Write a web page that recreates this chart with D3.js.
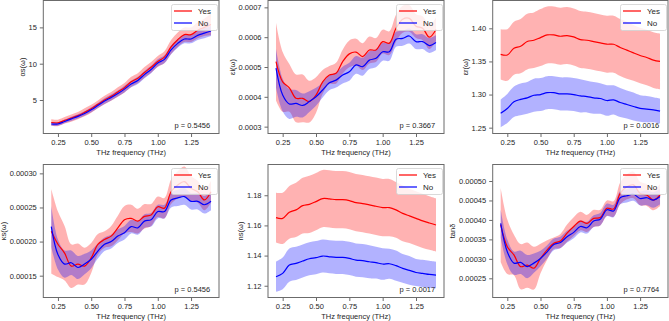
<!DOCTYPE html>
<html>
<head>
<meta charset="utf-8">
<script src="https://cdn.jsdelivr.net/npm/d3@7"></script>
<style>
html,body{margin:0;padding:0;background:#fff;}
svg{display:block;font-family:"Liberation Sans",Arial,Helvetica,sans-serif;}
</style>
</head>
<body>
<svg id="chart" width="669" height="321"></svg>
<script>
// ---------------- DATA ----------------
const freq = [0.20,0.25,0.30,0.35,0.40,0.45,0.50,0.55,0.60,0.65,0.70,0.75,0.80,0.85,0.90,0.95,1.00,1.05,1.10,1.15,1.20,1.25,1.30,1.35,1.40];
const xTicks = [0.25,0.50,0.75,1.00,1.25];
const xLimits = [0.14,1.46];
const groupNames = ["Yes","No"];

// αs(ω)
const asYesMean = [1.9,1.85,2.2,2.5,2.85,3.3,3.8,4.4,5.0,5.5,6.1,6.7,7.5,8.0,8.8,9.5,10.3,10.9,12.3,13.3,14.0,14.0,14.6,15.0,15.4];
const asYesSd   = [0.45,0.45,0.45,0.5,0.5,0.55,0.55,0.55,0.6,0.6,0.65,0.65,0.7,0.7,0.75,0.75,0.75,0.8,0.95,1.0,1.0,1.0,1.1,1.2,1.5];
const asNoMean  = [1.7,1.7,2.05,2.4,2.75,3.15,3.65,4.25,4.85,5.35,5.9,6.5,7.2,7.7,8.5,9.2,10.1,10.6,11.9,12.8,13.4,13.4,13.9,14.2,14.5];
const asNoSd    = [0.25,0.25,0.25,0.3,0.3,0.3,0.35,0.35,0.4,0.4,0.4,0.45,0.45,0.5,0.5,0.5,0.5,0.55,0.6,0.6,0.6,0.6,0.65,0.7,0.7];
const asTicks = [5,10,15];
const asLimits = [0.39,18.7];

// εi(ω)
const eiYesMean = [0.000518,0.000450,0.000430,0.000395,0.000395,0.000384,0.000406,0.000450,0.000473,0.000479,0.000518,0.000544,0.000550,0.000535,0.000557,0.000557,0.000585,0.000580,0.000630,0.000660,0.000663,0.000637,0.000630,0.000600,0.000626];
const eiYesSd   = [0.000130,0.000100,0.000080,0.000080,0.000080,0.000070,0.000060,0.000040,0.000030,0.000035,0.000040,0.000045,0.000045,0.000045,0.000045,0.000040,0.000040,0.000040,0.000045,0.000045,0.000045,0.000040,0.000040,0.000040,0.000040];
const eiNoMean  = [0.000496,0.000406,0.000376,0.000378,0.000371,0.000384,0.000400,0.000423,0.000447,0.000456,0.000473,0.000484,0.000507,0.000501,0.000523,0.000529,0.000551,0.000551,0.000593,0.000596,0.000604,0.000585,0.000585,0.000572,0.000582];
const eiNoSd    = [0.000065,0.000055,0.000050,0.000045,0.000040,0.000035,0.000030,0.000025,0.000025,0.000025,0.000028,0.000030,0.000030,0.000030,0.000030,0.000030,0.000030,0.000030,0.000025,0.000025,0.000025,0.000025,0.000025,0.000025,0.000025];
const eiTicks = [0.0003,0.0004,0.0005,0.0006,0.0007];
const eiLimits = [0.000277,0.000723];

// εr(ω)
const erYesMean = [1.3607,1.3597,1.370,1.373,1.380,1.382,1.386,1.390,1.390,1.388,1.389,1.387,1.383,1.382,1.380,1.378,1.376,1.376,1.371,1.367,1.363,1.359,1.356,1.352,1.350];
const erYesSd   = [0.038,0.039,0.040,0.041,0.042,0.042,0.043,0.043,0.043,0.043,0.043,0.043,0.043,0.043,0.043,0.043,0.043,0.043,0.043,0.043,0.042,0.042,0.042,0.042,0.042];
const erNoMean  = [1.2716,1.279,1.289,1.2927,1.295,1.299,1.300,1.3028,1.3028,1.301,1.301,1.300,1.298,1.297,1.295,1.294,1.291,1.292,1.288,1.285,1.282,1.279,1.278,1.277,1.275];
const erNoSd    = [0.021,0.022,0.023,0.024,0.024,0.025,0.025,0.025,0.025,0.025,0.025,0.025,0.025,0.024,0.024,0.023,0.023,0.022,0.022,0.021,0.021,0.020,0.020,0.019,0.019];
const erTicks = [1.25,1.30,1.35,1.40];
const erLimits = [1.2412,1.442];

// κs(ω)
const ksYesMean = [0.000215,0.000196,0.000183,0.000164,0.000167,0.000164,0.000176,0.000196,0.000203,0.000208,0.000220,0.000232,0.000234,0.000230,0.000237,0.000239,0.000251,0.000249,0.000273,0.000283,0.000288,0.000278,0.000273,0.000261,0.000273];
const ksYesSd   = [0.000062,0.000048,0.000040,0.000032,0.000030,0.000027,0.000022,0.000015,0.000012,0.000015,0.000018,0.000020,0.000020,0.000018,0.000018,0.000016,0.000015,0.000015,0.000018,0.000020,0.000022,0.000018,0.000016,0.000015,0.000016];
const ksNoMean  = [0.000222,0.000181,0.000167,0.000169,0.000162,0.000167,0.000174,0.000186,0.000196,0.000200,0.000208,0.000213,0.000222,0.000220,0.000230,0.000232,0.000244,0.000244,0.000261,0.000264,0.000266,0.000259,0.000259,0.000254,0.000259];
const ksNoSd    = [0.000030,0.000022,0.000020,0.000018,0.000017,0.000015,0.000013,0.000011,0.000010,0.000010,0.000010,0.000010,0.000010,0.000010,0.000010,0.000010,0.000010,0.000010,0.000011,0.000012,0.000012,0.000012,0.000012,0.000013,0.000013];
const ksTicks = [0.00015,0.00020,0.00025,0.00030];
const ksLimits = [0.000118,0.000313];

// ns(ω)
const nsYesMean = [1.1652,1.1647,1.1687,1.1703,1.1731,1.1740,1.1758,1.1778,1.1776,1.1771,1.1771,1.1765,1.1751,1.1745,1.1736,1.1727,1.1718,1.1718,1.1703,1.1680,1.1663,1.1647,1.1630,1.1616,1.1603];
const nsYesSd   = [0.0165,0.017,0.0175,0.018,0.0185,0.019,0.019,0.019,0.019,0.019,0.019,0.019,0.019,0.019,0.019,0.019,0.019,0.019,0.0185,0.0185,0.018,0.018,0.018,0.0178,0.0177];
const nsNoMean  = [1.1260,1.1282,1.1337,1.1348,1.1364,1.1379,1.1386,1.1397,1.1392,1.1388,1.1388,1.1381,1.1370,1.1366,1.1359,1.1353,1.1344,1.1346,1.1333,1.1315,1.1302,1.1288,1.1282,1.1275,1.1271];
const nsNoSd    = [0.010,0.0105,0.011,0.011,0.011,0.011,0.011,0.011,0.011,0.011,0.011,0.011,0.011,0.011,0.011,0.0105,0.0105,0.010,0.010,0.0095,0.0095,0.009,0.009,0.009,0.0088];
const nsTicks = [1.12,1.14,1.16,1.18];
const nsLimits = [1.1122,1.2004];

// tanδ
const tdYesMean = [0.000387,0.000331,0.000310,0.000280,0.000284,0.000276,0.000301,0.000323,0.000340,0.000346,0.000366,0.000383,0.000397,0.000391,0.000404,0.000406,0.000430,0.000428,0.000468,0.000485,0.000490,0.000468,0.000464,0.000451,0.000464];
const tdYesSd   = [0.000095,0.000070,0.000052,0.000058,0.000058,0.000055,0.000038,0.000025,0.000015,0.000018,0.000022,0.000024,0.000024,0.000022,0.000022,0.000020,0.000020,0.000020,0.000028,0.000032,0.000034,0.000030,0.000028,0.000026,0.000028];
const tdNoMean  = [0.000391,0.000318,0.000289,0.000291,0.000280,0.000289,0.000301,0.000318,0.000337,0.000342,0.000357,0.000368,0.000383,0.000380,0.000397,0.000402,0.000426,0.000423,0.000457,0.000462,0.000466,0.000455,0.000457,0.000451,0.000460];
const tdNoSd    = [0.000036,0.000032,0.000030,0.000030,0.000030,0.000025,0.000020,0.000017,0.000015,0.000015,0.000015,0.000015,0.000015,0.000015,0.000015,0.000016,0.000016,0.000016,0.000017,0.000017,0.000017,0.000018,0.000019,0.000020,0.000020];
const tdTicks = [0.00025,0.00030,0.00035,0.00040,0.00045,0.00050];
const tdLimits = [0.0002007,0.0005424];

const yLabels = ["αs(ω)","εi(ω)","εr(ω)","κs(ω)","ns(ω)","tanδ"];
const pValues = ["p = 0.5456","p = 0.3667","p = 0.0016","p = 0.5456","p = 0.0017","p = 0.7764"];
const xLabel = "THz frequency (THz)";

// ---------------- LAYOUT ----------------
const panels = [
  {yes:[asYesMean,asYesSd], no:[asNoMean,asNoSd], ticks:asTicks, lim:asLimits, fmt:d3.format("d")},
  {yes:[eiYesMean,eiYesSd], no:[eiNoMean,eiNoSd], ticks:eiTicks, lim:eiLimits, fmt:d3.format(".4f")},
  {yes:[erYesMean,erYesSd], no:[erNoMean,erNoSd], ticks:erTicks, lim:erLimits, fmt:d3.format(".2f")},
  {yes:[ksYesMean,ksYesSd], no:[ksNoMean,ksNoSd], ticks:ksTicks, lim:ksLimits, fmt:d3.format(".5f")},
  {yes:[nsYesMean,nsYesSd], no:[nsNoMean,nsNoSd], ticks:nsTicks, lim:nsLimits, fmt:d3.format(".2f")},
  {yes:[tdYesMean,tdYesSd], no:[tdNoMean,tdNoSd], ticks:tdTicks, lim:tdLimits, fmt:d3.format(".5f")}
];
const cols = [[43.3,219],[268,444],[492.7,668]];
const rows = [[0.5,133.5],[164.5,297.5]];

const svg = d3.select("#chart");
const FS = 7.5;
const textColor = "#262626";
const frameColor = "#6b6b6b";
const colors = {Yes:"#ff0000", No:"#0000ff"};

panels.forEach((p,i)=>{
  const c = cols[i%3], r = rows[Math.floor(i/3)];
  const x = d3.scaleLinear().domain(xLimits).range(c);
  const y = d3.scaleLinear().domain(p.lim).range([r[1],r[0]]);
  const g = svg.append("g");
  const clipId = "clip"+i;
  svg.append("clipPath").attr("id",clipId).append("rect")
    .attr("x",c[0]).attr("y",r[0]).attr("width",c[1]-c[0]).attr("height",r[1]-r[0]);
  const plot = g.append("g").attr("clip-path",`url(#${clipId})`);

  const groups = [["Yes",p.yes],["No",p.no]];
  const area = (m,s)=>d3.area().x((d,k)=>x(freq[k])).y0((d,k)=>y(m[k]-s[k])).y1((d,k)=>y(m[k]+s[k])).curve(d3.curveCatmullRom.alpha(0.5));
  const line = (m)=>d3.line().x((d,k)=>x(freq[k])).y((d,k)=>y(m[k])).curve(d3.curveCatmullRom.alpha(0.5));
  groups.forEach(([name,[m,s]])=>{
    plot.append("path").attr("d",area(m,s)(freq)).attr("fill",colors[name]).attr("fill-opacity",0.3).attr("stroke","none");
  });
  groups.forEach(([name,[m,s]])=>{
    plot.append("path").attr("d",line(m)(freq)).attr("fill","none").attr("stroke",colors[name]).attr("stroke-width",1.2);
  });

  // axes
  const xa = g.append("g").attr("transform",`translate(0,${r[1]})`)
    .call(d3.axisBottom(x).tickValues(xTicks).tickFormat(d3.format(".2f")).tickSize(3.5).tickPadding(2.5));
  const ya = g.append("g").attr("transform",`translate(${c[0]},0)`)
    .call(d3.axisLeft(y).tickValues(p.ticks).tickFormat(p.fmt).tickSize(3.5).tickPadding(3));
  [xa,ya].forEach(a=>{
    a.select(".domain").remove();
    a.selectAll("line").attr("stroke","#444").attr("stroke-width",0.8);
    a.selectAll("text").attr("font-size",FS).attr("fill",textColor).attr("font-family","Liberation Sans, Arial, sans-serif");
  });

  // frame
  g.append("rect").attr("x",c[0]).attr("y",r[0]).attr("width",c[1]-c[0]).attr("height",r[1]-r[0])
    .attr("fill","none").attr("stroke",frameColor).attr("stroke-width",1);

  // x label
  g.append("text").attr("x",(c[0]+c[1])/2).attr("y",r[1]+21.5).attr("text-anchor","middle")
    .attr("font-size",FS).attr("fill",textColor).text(xLabel);

  // y label (placed left of tick labels)
  let minX = Infinity;
  ya.selectAll("text").each(function(){ const b=this.getBBox(); minX=Math.min(minX,b.x); });
  const lx = c[0] + minX - 3.8;
  const ly = (r[0]+r[1])/2;
  g.append("text").attr("transform",`translate(${lx},${ly}) rotate(-90)`).attr("text-anchor","middle")
    .attr("font-size",FS).attr("fill",textColor).text(yLabels[i]);

  // p value
  g.append("text").attr("x",c[1]-0.05*(c[1]-c[0])).attr("y",r[1]-6).attr("text-anchor","end")
    .attr("font-size",FS).attr("fill",textColor).text(pValues[i]);

  // legend
  const bx = c[1]-47.5, by = r[0]+4;
  const lg = g.append("g");
  lg.append("rect").attr("x",bx).attr("y",by).attr("width",46).attr("height",26).attr("rx",2)
    .attr("fill","#fff").attr("fill-opacity",0.8).attr("stroke","#d0d0d0").attr("stroke-width",0.8);
  groupNames.forEach((nm,k)=>{
    const yy = by+6.5+k*12;
    lg.append("line").attr("x1",bx+2.5).attr("x2",bx+20.5).attr("y1",yy).attr("y2",yy)
      .attr("stroke",colors[nm]).attr("stroke-width",1.2);
    lg.append("text").attr("x",bx+26.5).attr("y",yy).attr("dy","0.35em").attr("font-size",8)
      .attr("fill",textColor).text(nm);
  });
});
</script>
</body>
</html>
